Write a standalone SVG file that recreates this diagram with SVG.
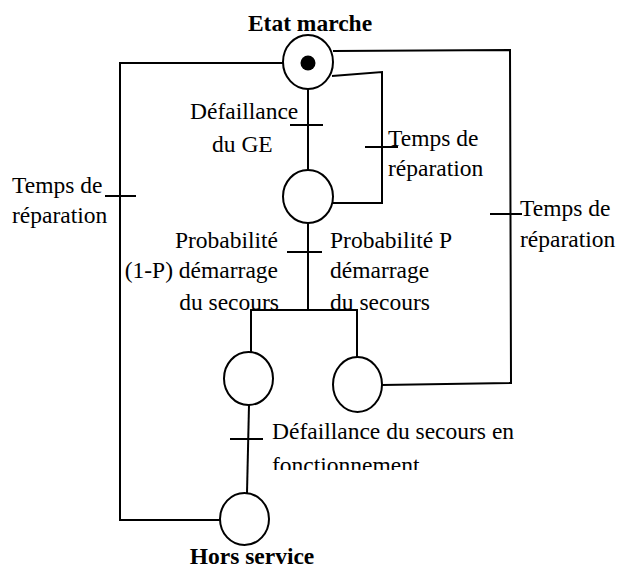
<svg xmlns="http://www.w3.org/2000/svg" width="617" height="568" viewBox="0 0 617 568">
<style>
.t{font-family:"Liberation Serif","Times New Roman",serif;font-size:23.5px;fill:#000}
.b{font-weight:bold;text-anchor:middle}
.e{text-anchor:end}
.s{fill:#fff;stroke:#000;stroke-width:2}
.l{fill:none;stroke:#000;stroke-width:2}
</style>
<defs>
<clipPath id="cut"><rect x="0" y="440" width="617" height="30"/></clipPath>
</defs>
<rect width="617" height="568" fill="#fff"/>
<g id="connectors">
<polyline class="l" points="283,63 120,63 120,520 221,520"/>
<polyline class="l" points="333,51 510,50 511,383 382,385"/>
<polyline class="l" points="332,76 382,72 382,203 333,203"/>
<line class="l" x1="308" y1="89" x2="308" y2="170"/>
<line class="l" x1="290" y1="125" x2="323" y2="125"/>
<line class="l" x1="365" y1="147" x2="398" y2="147"/>
<line class="l" x1="308" y1="223" x2="308" y2="310"/>
<line class="l" x1="287" y1="252" x2="322" y2="252"/>
<polyline class="l" points="251,352 251,310 357,310 357,357"/>
<line class="l" x1="249" y1="405" x2="247" y2="493"/>
<line class="l" x1="230" y1="439" x2="263" y2="439"/>
<line class="l" x1="105" y1="196" x2="136" y2="196"/>
<line class="l" x1="490" y1="214" x2="522" y2="214"/>
</g>
<g id="etat-marche">
<ellipse class="s" cx="308" cy="62" rx="25" ry="27"/>
<circle cx="308" cy="63" r="7.5" fill="#000"/>
<text class="t b" x="310" y="31">Etat marche</text>
</g>
<g id="defaillance-ge">
<ellipse class="s" cx="308" cy="196.5" rx="25" ry="26.5"/>
</g>
<g id="secours-non-demarre">
<ellipse class="s" cx="248.5" cy="378.5" rx="24.5" ry="26.5"/>
</g>
<g id="secours-demarre">
<ellipse class="s" cx="357.5" cy="384.5" rx="24.5" ry="27.5"/>
</g>
<g id="hors-service">
<ellipse class="s" cx="244.5" cy="519" rx="24.5" ry="26"/>
<text class="t b" x="252" y="564">Hors service</text>
</g>
<g id="labels">
<text class="t" x="190" y="119">Défaillance</text>
<text class="t" x="212" y="152">du GE</text>
<text class="t" x="388" y="146">Temps de</text>
<text class="t" x="388" y="176">réparation</text>
<text class="t" x="12" y="193">Temps de</text>
<text class="t" x="12" y="223">réparation</text>
<text class="t" x="520" y="216">Temps de</text>
<text class="t" x="520" y="247">réparation</text>
<text class="t e" x="278" y="248">Probabilité</text>
<text class="t e" x="278" y="278">(1-P) démarrage</text>
<text class="t e" x="279" y="310">du secours</text>
<text class="t" x="330" y="248">Probabilité P</text>
<text class="t" x="330" y="278">démarrage</text>
<text class="t" x="330" y="310">du secours</text>
<text class="t" x="272" y="439">Défaillance du secours en</text>
<text class="t" x="272" y="473" clip-path="url(#cut)">fonctionnement</text>
</g>
</svg>
